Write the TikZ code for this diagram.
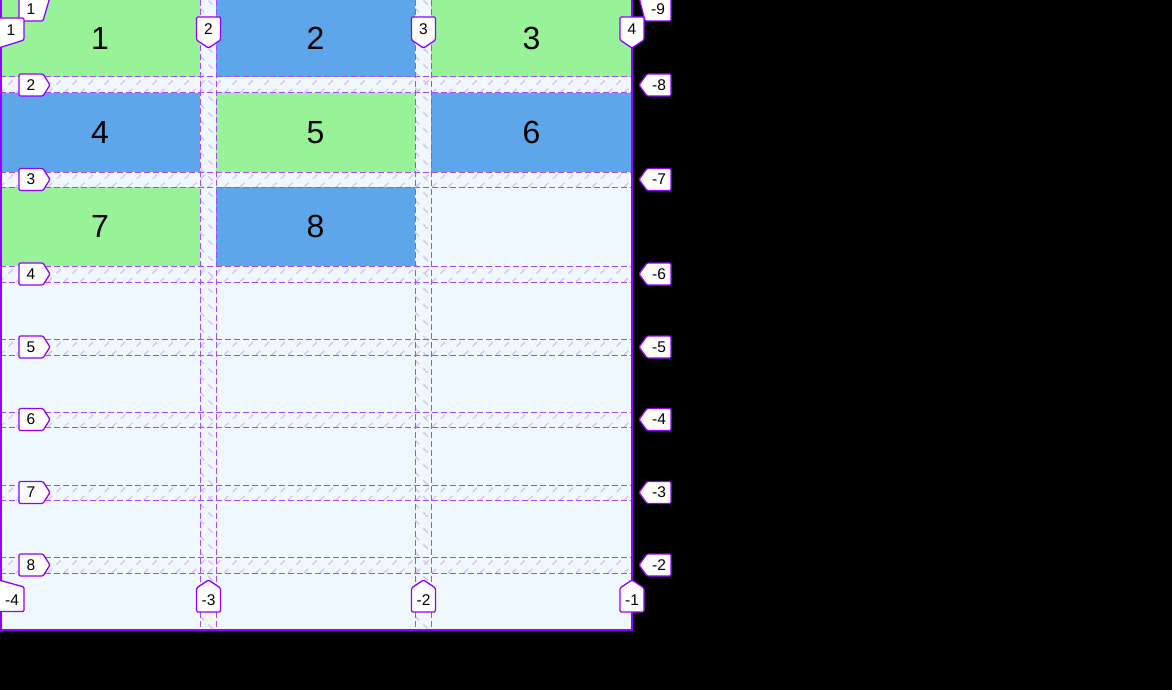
\documentclass[tikz,border=0pt]{standalone}
\usepackage{fontspec}
\setmainfont{Liberation Sans}
\definecolor{gridbg}{RGB}{239,247,255}
\definecolor{cellgreen}{RGB}{152,243,152}
\definecolor{cellblue}{RGB}{93,166,233}
\definecolor{gridpurple}{RGB}{148,0,255}
\definecolor{dashpurple}{RGB}{165,75,255}
\definecolor{hatchpurple}{RGB}{218,186,250}
\tikzset{
  cellbox/.style={inner sep=0pt, outer sep=0pt, font=\fontsize{32}{32}\selectfont},
  cellg/.style={cellbox, fill=cellgreen},
  cellb/.style={cellbox, fill=cellblue},
  gapline/.style={draw=dashpurple, line width=1pt, dash pattern=on 6pt off 3pt},
  hatchline/.style={draw=hatchpurple, line width=1.1pt, dash pattern=on 6pt off 6pt},
  labbox/.style={draw=gridpurple, fill=white, line width=1.3pt, rounded corners=1.2pt},
  labtext/.style={inner sep=0pt, font=\fontsize{15.5}{15.5}\selectfont},
}
\newcommand\rowlabL[3]{%
  \draw[labbox] (19,#2-11) -- (43,#2-11) -- (50,#2) -- (43,#2+11) -- (19,#2+11) -- cycle;
  \node[labtext] (#1) at (31,#2) {#3};}
\newcommand\rowlabR[3]{%
  \draw[labbox] (671,#2-11) -- (647,#2-11) -- (639,#2) -- (647,#2+11) -- (671,#2+11) -- cycle;
  \node[labtext] (#1) at (659,#2) {#3};}
\newcommand\collabT[3]{%
  \draw[labbox] (#2-12,17) -- (#2+12,17) -- (#2+12,40) -- (#2,48) -- (#2-12,40) -- cycle;
  \node[labtext] (#1) at (#2,29) {#3};}
\newcommand\collabB[3]{%
  \draw[labbox] (#2-12,612) -- (#2+12,612) -- (#2+12,588) -- (#2,580) -- (#2-12,588) -- cycle;
  \node[labtext] (#1) at (#2,600) {#3};}
\begin{document}
\begin{tikzpicture}[x=1pt,y=-1pt]
\useasboundingbox (0,0) rectangle (1172,690);
\clip (0,0) rectangle (1172,690);
\fill[black] (0,0) rectangle (1172,690);
% container
\fill[gridbg] (0,0) rectangle (632,630);
% cells
\node[cellg, minimum width=200pt, minimum height=77pt] (c1) at (100,38.5) {1};
\node[cellb, minimum width=199pt, minimum height=77pt] (c2) at (315.5,38.5) {2};
\node[cellg, minimum width=201pt, minimum height=77pt] (c3) at (531.5,38.5) {3};
\node[cellb, minimum width=200pt, minimum height=79pt] (c4) at (100,132.5) {4};
\node[cellg, minimum width=199pt, minimum height=79pt] (c5) at (315.5,132.5) {5};
\node[cellb, minimum width=201pt, minimum height=79pt] (c6) at (531.5,132.5) {6};
\node[cellg, minimum width=200pt, minimum height=79pt] (c7) at (100,226.5) {7};
\node[cellb, minimum width=199pt, minimum height=79pt] (c8) at (315.5,226.5) {8};
% row gap hatching
\foreach \t/\b in {77/93,172/187,266/282,339/355,412/427,485/500,557/573}{
  \begin{scope}
    \clip (0,\t) rectangle (632,\b);
    \foreach \x in {0,16,...,672}{
      \draw[hatchline] (\x-16,\b) -- (\x,\t);
    }
  \end{scope}
}
% column gap hatching
\foreach \l/\r in {200/216,415/431}{
  \begin{scope}
    \clip (\l,0) rectangle (\r,630);
    \foreach \y in {-24,-8,...,640}{
      \draw[hatchline] (\l,\y) -- (\r,\y+16);
    }
  \end{scope}
}
% gap lines
\foreach \y in {77,93,172,187,266,282,339,355,412,427,485,500,557,573}{
  \draw[gapline] (0,\y) -- (632,\y);
}
\foreach \x in {200.5,216,415.5,431}{
  \draw[gapline] (\x,0) -- (\x,630);
}
% container border
\draw[gridpurple, line width=2pt] (0.5,-2) -- (0.5,630) -- (632,630) -- (632,-2);
% row labels left
\draw[labbox] (19,-3) -- (19,21) -- (43,21) -- (50,-3);
\node[labtext] (rl1) at (31,9) {1};
\rowlabL{rl2}{85}{2}
\rowlabL{rl3}{179.5}{3}
\rowlabL{rl4}{274}{4}
\rowlabL{rl5}{347}{5}
\rowlabL{rl6}{419.5}{6}
\rowlabL{rl7}{492.5}{7}
\rowlabL{rl8}{565}{8}
% row labels right
\draw[labbox] (639,-3) -- (645,21) -- (671,21) -- (671,-3);
\node[labtext] (rr9) at (658,9) {-9};
\rowlabR{rr8}{85}{-8}
\rowlabR{rr7}{179.5}{-7}
\rowlabR{rr6}{274}{-6}
\rowlabR{rr5}{347}{-5}
\rowlabR{rr4}{419.5}{-4}
\rowlabR{rr3}{492.5}{-3}
\rowlabR{rr2}{565}{-2}
% column labels top
\draw[labbox] (-3,18) -- (24,18) -- (24,40) -- (-3,48.5);
\node[labtext] (ct1) at (11,30) {1};
\collabT{ct2}{208.5}{2}
\collabT{ct3}{423.5}{3}
\collabT{ct4}{632}{4}
% column labels bottom
\draw[labbox] (-3,579.5) -- (24,587) -- (24,611.5) -- (-3,611.5);
\node[labtext] (cb4) at (12,600) {-4};
\collabB{cb3}{208.5}{-3}
\collabB{cb2}{423.5}{-2}
\collabB{cb1}{632}{-1}
\end{tikzpicture}
\end{document}
